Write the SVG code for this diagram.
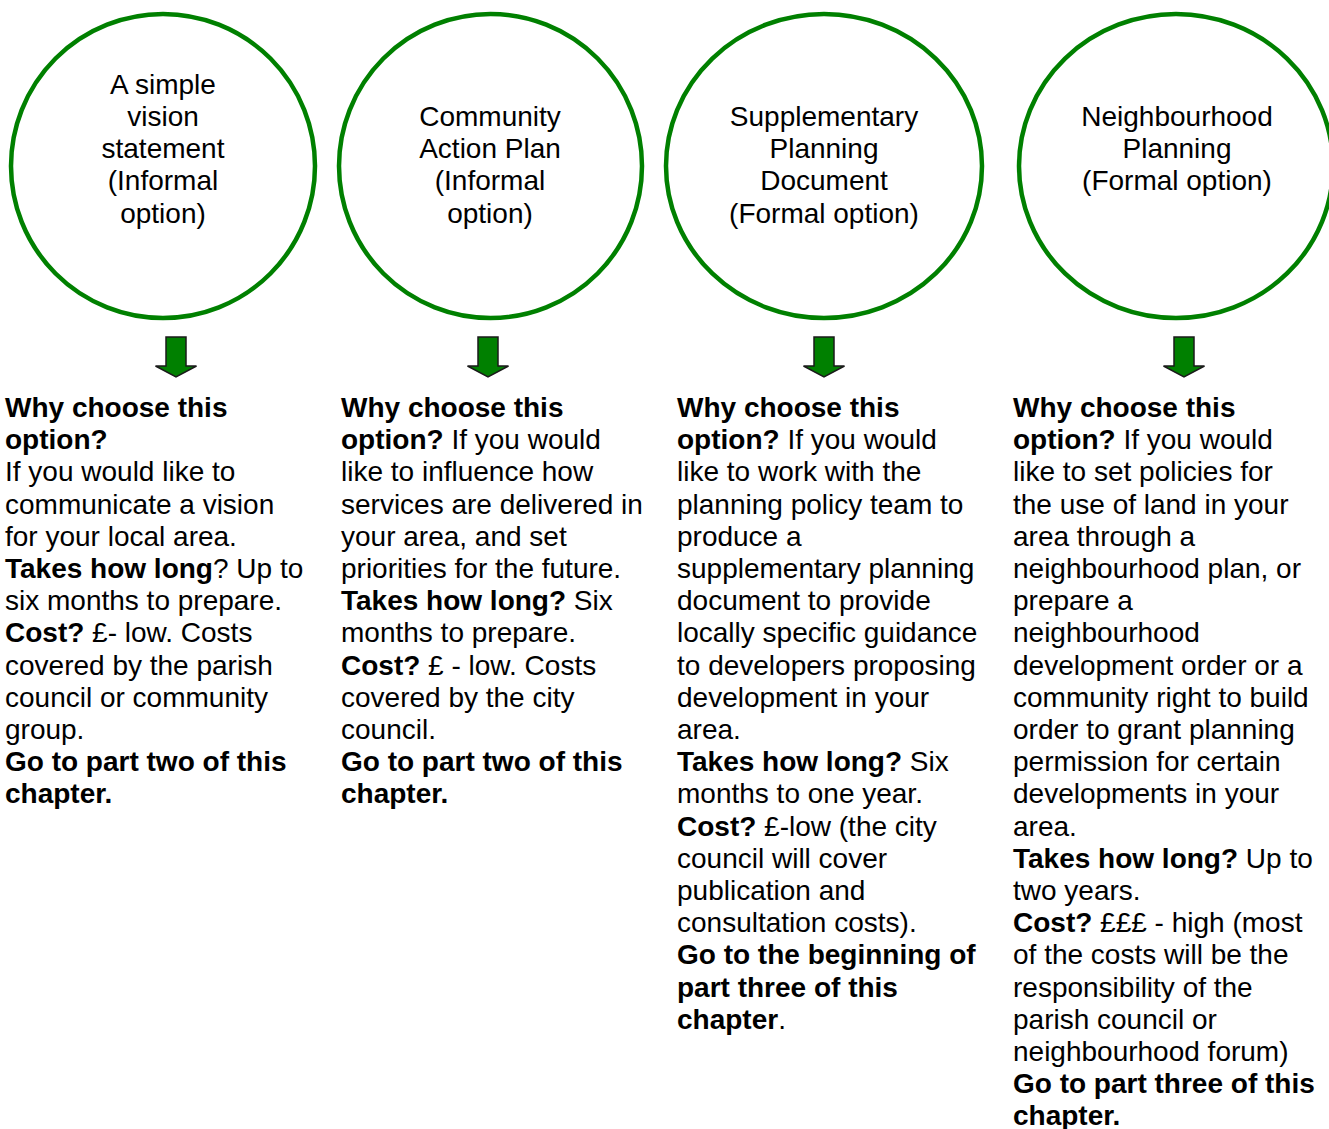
<svg xmlns="http://www.w3.org/2000/svg" width="1329" height="1129" viewBox="0 0 1329 1129">
<style>
.c{fill:#fff;stroke:#008000;stroke-width:4.5}
.t{font-family:"Liberation Sans",Arial,sans-serif;font-size:28px;fill:#000}
.m{text-anchor:middle}
.b{font-weight:bold}
.a{fill:#008000;stroke:#1a1a1a;stroke-width:1.5;stroke-linejoin:miter}
</style>
<defs>
<path id="arr" d="M-10,0 H10 V29 H20.5 L0,40 L-20.5,29 H-10 Z"/>
</defs>
<rect width="1329" height="1129" fill="#fff"/>
<g id="node1">
<ellipse class="c" cx="163" cy="166" rx="152" ry="152"/>
<text class="t m" x="163" y="94">A simple</text>
<text class="t m" x="163" y="126">vision</text>
<text class="t m" x="163" y="158">statement</text>
<text class="t m" x="163" y="190">(Informal</text>
<text class="t m" x="163" y="223">option)</text>
</g>
<g id="node2">
<ellipse class="c" cx="490.5" cy="166" rx="151.5" ry="152"/>
<text class="t m" x="490" y="126">Community</text>
<text class="t m" x="490" y="158">Action Plan</text>
<text class="t m" x="490" y="190">(Informal</text>
<text class="t m" x="490" y="223">option)</text>
</g>
<g id="node3">
<ellipse class="c" cx="824" cy="166" rx="158" ry="152"/>
<text class="t m" x="824" y="126">Supplementary</text>
<text class="t m" x="824" y="158">Planning</text>
<text class="t m" x="824" y="190">Document</text>
<text class="t m" x="824" y="223">(Formal option)</text>
</g>
<g id="node4">
<ellipse class="c" cx="1176" cy="166" rx="157" ry="152"/>
<text class="t m" x="1177" y="126">Neighbourhood</text>
<text class="t m" x="1177" y="158">Planning</text>
<text class="t m" x="1177" y="190">(Formal option)</text>
</g>
<g id="connectors">
<use href="#arr" class="a" transform="translate(176,337)"/>
<use href="#arr" class="a" transform="translate(488,337)"/>
<use href="#arr" class="a" transform="translate(824,337)"/>
<use href="#arr" class="a" transform="translate(1184,337)"/>
</g>
<g id="text1" class="t">
<text x="5" y="417" class="b">Why choose this</text>
<text x="5" y="449.2" class="b">option?</text>
<text x="5" y="481.4">If you would like to</text>
<text x="5" y="513.6">communicate a vision</text>
<text x="5" y="545.8">for your local area.</text>
<text x="5" y="578"><tspan class="b">Takes how long</tspan>? Up to</text>
<text x="5" y="610.2">six months to prepare.</text>
<text x="5" y="642.4"><tspan class="b">Cost?</tspan> £- low. Costs</text>
<text x="5" y="674.6">covered by the parish</text>
<text x="5" y="706.8">council or community</text>
<text x="5" y="739">group.</text>
<text x="5" y="771.2" class="b">Go to part two of this</text>
<text x="5" y="803.4" class="b">chapter.</text>
</g>
<g id="text2" class="t">
<text x="341" y="417" class="b">Why choose this</text>
<text x="341" y="449.2"><tspan class="b">option?</tspan> If you would</text>
<text x="341" y="481.4">like to influence how</text>
<text x="341" y="513.6">services are delivered in</text>
<text x="341" y="545.8">your area, and set</text>
<text x="341" y="578">priorities for the future.</text>
<text x="341" y="610.2"><tspan class="b">Takes how long?</tspan> Six</text>
<text x="341" y="642.4">months to prepare.</text>
<text x="341" y="674.6"><tspan class="b">Cost?</tspan> £ - low. Costs</text>
<text x="341" y="706.8">covered by the city</text>
<text x="341" y="739">council.</text>
<text x="341" y="771.2" class="b">Go to part two of this</text>
<text x="341" y="803.4" class="b">chapter.</text>
</g>
<g id="text3" class="t">
<text x="677" y="417" class="b">Why choose this</text>
<text x="677" y="449.2"><tspan class="b">option?</tspan> If you would</text>
<text x="677" y="481.4">like to work with the</text>
<text x="677" y="513.6">planning policy team to</text>
<text x="677" y="545.8">produce a</text>
<text x="677" y="578">supplementary planning</text>
<text x="677" y="610.2">document to provide</text>
<text x="677" y="642.4">locally specific guidance</text>
<text x="677" y="674.6">to developers proposing</text>
<text x="677" y="706.8">development in your</text>
<text x="677" y="739">area.</text>
<text x="677" y="771.2"><tspan class="b">Takes how long?</tspan> Six</text>
<text x="677" y="803.4">months to one year.</text>
<text x="677" y="835.6"><tspan class="b">Cost?</tspan> £-low (the city</text>
<text x="677" y="867.8">council will cover</text>
<text x="677" y="900">publication and</text>
<text x="677" y="932.2">consultation costs).</text>
<text x="677" y="964.4" class="b">Go to the beginning of</text>
<text x="677" y="996.6" class="b">part three of this</text>
<text x="677" y="1028.8"><tspan class="b">chapter</tspan>.</text>
</g>
<g id="text4" class="t">
<text x="1013" y="417" class="b">Why choose this</text>
<text x="1013" y="449.2"><tspan class="b">option?</tspan> If you would</text>
<text x="1013" y="481.4">like to set policies for</text>
<text x="1013" y="513.6">the use of land in your</text>
<text x="1013" y="545.8">area through a</text>
<text x="1013" y="578">neighbourhood plan, or</text>
<text x="1013" y="610.2">prepare a</text>
<text x="1013" y="642.4">neighbourhood</text>
<text x="1013" y="674.6">development order or a</text>
<text x="1013" y="706.8">community right to build</text>
<text x="1013" y="739">order to grant planning</text>
<text x="1013" y="771.2">permission for certain</text>
<text x="1013" y="803.4">developments in your</text>
<text x="1013" y="835.6">area.</text>
<text x="1013" y="867.8"><tspan class="b">Takes how long?</tspan> Up to</text>
<text x="1013" y="900">two years.</text>
<text x="1013" y="932.2"><tspan class="b">Cost?</tspan> £££ - high (most</text>
<text x="1013" y="964.4">of the costs will be the</text>
<text x="1013" y="996.6">responsibility of the</text>
<text x="1013" y="1028.8">parish council or</text>
<text x="1013" y="1061">neighbourhood forum)</text>
<text x="1013" y="1093.2" class="b">Go to part three of this</text>
<text x="1013" y="1125.4" class="b">chapter.</text>
</g>
</svg>
